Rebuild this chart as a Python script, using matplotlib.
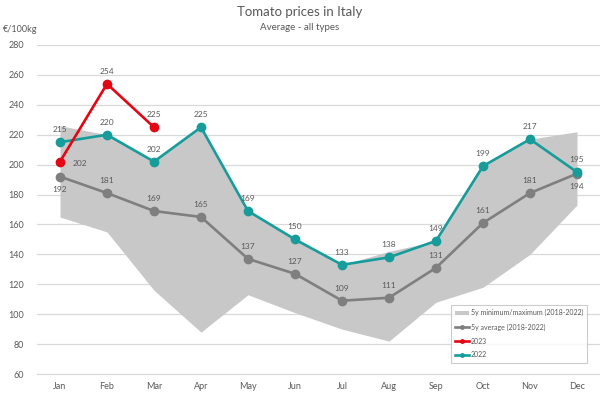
import matplotlib
matplotlib.use("Agg")
import matplotlib.pyplot as plt
from matplotlib.patches import Patch
from matplotlib.lines import Line2D

months = ["Jan", "Feb", "Mar", "Apr", "May", "Jun", "Jul", "Aug", "Sep", "Oct", "Nov", "Dec"]
avg_5y = [192, 181, 169, 165, 137, 127, 109, 111, 131, 161, 181, 194]
y2022 = [215, 220, 202, 225, 169, 150, 133, 138, 149, 199, 217, 195]
y2023 = [202, 254, 225]
min_5y = [165, 155, 116, 88, 113, 101, 90, 82, 108, 118, 140, 173]
max_5y = [226, 220, 202, 225, 169, 150, 133, 142, 149, 199, 217, 222]
yticks = list(range(60, 281, 20))

plt.rcParams['font.family'] = ['Lato', 'DejaVu Sans']
txt = "#595959"
grey_line = "#7f7f7f"
teal = "#169c9a"
red = "#e30613"
shade = "#c8c8c8"

fig = plt.figure(figsize=(6, 3.93), dpi=100)
ax = fig.add_axes([36.5 / 600, 19 / 393, 564 / 600, 329 / 393])

x = list(range(len(months)))
ax.fill_between(x, min_5y, max_5y, color=shade, lw=0, zorder=1)
ax.plot(x, avg_5y, color=grey_line, lw=1.9, marker='o', ms=6, zorder=3)
ax.plot(x, y2022, color=teal, lw=1.9, marker='o', ms=6, zorder=4)
ax.plot(x[:len(y2023)], y2023, color=red, lw=1.9, marker='o', ms=6, zorder=5)

lab_kw = dict(fontsize=6, color=txt, ha='center', zorder=6)
for i, v in enumerate(y2022):
    ax.annotate(str(v), (i, v), xytext=(0, 6.5), textcoords='offset points', va='bottom', **lab_kw)
for i, v in enumerate(avg_5y):
    if i in (0, 11):
        ax.annotate(str(v), (i, v), xytext=(0, -6.5), textcoords='offset points', va='top', **lab_kw)
    else:
        ax.annotate(str(v), (i, v), xytext=(0, 6.5), textcoords='offset points', va='bottom', **lab_kw)
for i, v in enumerate(y2023):
    if i == 0:
        ax.annotate(str(v), (i, v), xytext=(9, -1), textcoords='offset points', va='center',
                    fontsize=6, color=txt, ha='left', zorder=6)
    else:
        ax.annotate(str(v), (i, v), xytext=(0, 6.5), textcoords='offset points', va='bottom', **lab_kw)

ax.set_xlim(-0.5, 11.5)
ax.set_ylim(60, 280)
ax.set_yticks(yticks)
ax.set_xticks(x)
ax.set_xticklabels(months)
ax.grid(axis='y', color="#d9d9d9", lw=0.9, zorder=0)
ax.set_axisbelow(True)
for s in ['top', 'right', 'left']:
    ax.spines[s].set_visible(False)
ax.spines['bottom'].set_color("#d9d9d9")
ax.tick_params(axis='both', length=0, labelsize=6.5, colors=txt)
ax.tick_params(axis='y', pad=9)
ax.tick_params(axis='x', pad=6)

fig.text(0.5, 1 - 12 / 393, "Tomato prices in Italy", ha='center', va='center', fontsize=9.5, color=txt)
fig.text(0.5, 1 - 28 / 393, "Average - all types", ha='center', va='center', fontsize=7, color=txt)
fig.text(3 / 600, 1 - 30 / 393, "€/100kg", ha='left', va='center', fontsize=6.5, color=txt)

handles = [
    Patch(facecolor=shade, edgecolor='none', label="5y minimum/maximum (2018-2022)"),
    Line2D([0], [0], color=grey_line, lw=1.9, marker='o', ms=2.5, label="5y average (2018-2022)"),
    Line2D([0], [0], color=red, lw=1.9, marker='o', ms=2.5, label="2023"),
    Line2D([0], [0], color=teal, lw=1.9, marker='o', ms=2.5, label="2022"),
]
leg = ax.legend(handles=handles, loc='lower right', bbox_to_anchor=(0.983, 0.024),
                fontsize=5, frameon=True, fancybox=False, edgecolor="#bfbfbf",
                handlelength=2.0, handleheight=0.6, labelspacing=1.0, borderpad=0.6,
                handletextpad=0.3, labelcolor=txt)
leg.get_frame().set_linewidth(0.8)

fig.savefig("out.png", dpi=100)
